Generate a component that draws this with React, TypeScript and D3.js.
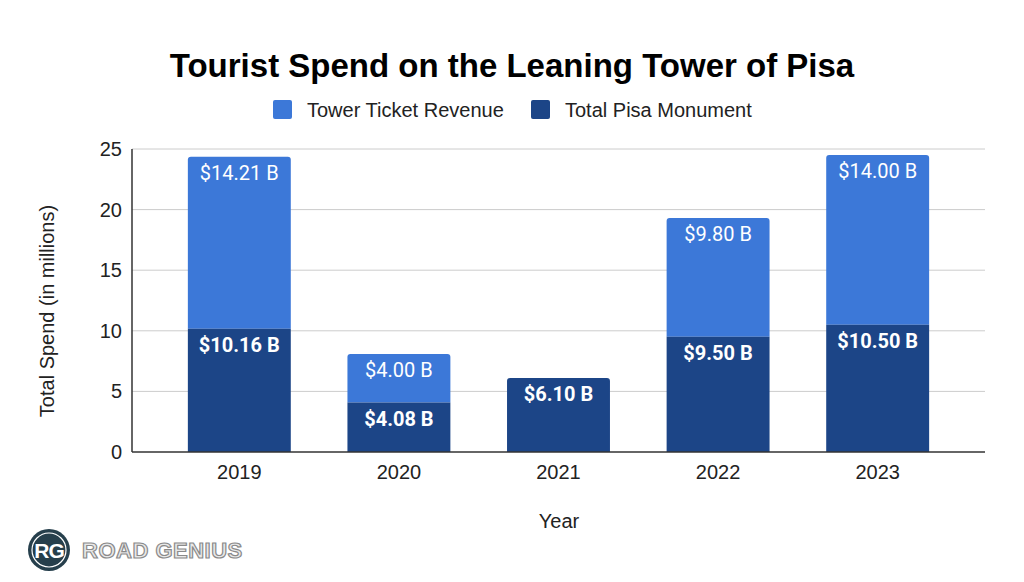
import React from "react";
import * as d3 from "d3";

const years = ["2019", "2020", "2021", "2022", "2023"];
const monumentValues = [10.16, 4.08, 6.1, 9.5, 10.5];
const ticketValues = [14.21, 4.0, 0, 9.8, 14.0];
const monumentLabels = ["$10.16 B", "$4.08 B", "$6.10 B", "$9.50 B", "$10.50 B"];
const ticketLabels = ["$14.21 B", "$4.00 B", "", "$9.80 B", "$14.00 B"];
const yTicks = [0, 5, 10, 15, 20, 25];
const seriesNames = ["Tower Ticket Revenue", "Total Pisa Monument"];

const LIGHT = "#3c78d8";
const DARK = "#1c4587";
const FONT = "Arial, 'Liberation Sans', sans-serif";
const LABEL_FONT = "Roboto, Arial, sans-serif";

export default function App() {
  const W = 1024, H = 582;
  const left = 132, right = 985, top = 149, bottom = 452;
  const x = d3.scaleBand<string>().domain(years).range([left, right]).paddingInner(0.355).paddingOuter(0.35);
  const y = d3.scaleLinear().domain([0, 25]).range([bottom, top]);
  const bw = x.bandwidth();

  const roundTopRect = (x0: number, y0: number, w: number, h: number, r: number) => {
    const p = d3.path();
    p.moveTo(x0, y0 + h);
    p.lineTo(x0, y0 + r);
    p.quadraticCurveTo(x0, y0, x0 + r, y0);
    p.lineTo(x0 + w - r, y0);
    p.quadraticCurveTo(x0 + w, y0, x0 + w, y0 + r);
    p.lineTo(x0 + w, y0 + h);
    p.closePath();
    return p.toString();
  };

  return (
    <svg width={W} height={H} style={{ position: "absolute", left: 0, top: 0, background: "#fff" }} fontFamily={FONT}>
      <rect x={0} y={0} width={W} height={H} fill="#fff" />
      <text x={512} y={77} textAnchor="middle" fontSize={33} fontWeight="bold" fill="#000">
        Tourist Spend on the Leaning Tower of Pisa
      </text>
      {/* legend */}
      <rect x={273} y={100} width={19} height={19} rx={2} fill={LIGHT} />
      <text x={307} y={117} fontSize={20} fill="#222">{seriesNames[0]}</text>
      <rect x={531} y={100} width={19} height={19} rx={2} fill={DARK} />
      <text x={565} y={117} fontSize={20} fill="#222">{seriesNames[1]}</text>

      {/* grid */}
      {yTicks.map((t) => (
        <g key={t}>
          {t > 0 && <line x1={left} x2={right} y1={y(t)} y2={y(t)} stroke="#cccccc" strokeWidth={1} />}
          <text x={122} y={y(t) + 7} textAnchor="end" fontSize={20} fill="#222">{t}</text>
        </g>
      ))}

      {/* bars */}
      {years.map((yr, i) => {
        const x0 = x(yr)!;
        const m = monumentValues[i];
        const t = ticketValues[i];
        const cx = x0 + bw / 2;
        const hasTop = t > 0;
        return (
          <g key={yr}>
            {hasTop && (
              <path d={roundTopRect(x0, y(m + t), bw, y(m) - y(m + t), 3)} fill={LIGHT} />
            )}
            <path d={hasTop ? roundTopRect(x0, y(m), bw, bottom - y(m), 0) : roundTopRect(x0, y(m), bw, bottom - y(m), 3)} fill={DARK} />
            {hasTop && (
              <text x={cx} y={y(m + t) + 23} textAnchor="middle" fontSize={20} fontFamily={LABEL_FONT} fill="#fff">{ticketLabels[i]}</text>
            )}
            <text x={cx} y={y(m) + 23} textAnchor="middle" fontSize={20} fontFamily={LABEL_FONT} fontWeight="bold" fill="#fff">{monumentLabels[i]}</text>
            <text x={cx} y={479} textAnchor="middle" fontSize={20} fill="#222">{yr}</text>
          </g>
        );
      })}

      {/* axes */}
      <line x1={left} x2={left} y1={top} y2={bottom} stroke="#333" strokeWidth={1.5} />
      <line x1={left} x2={right} y1={bottom} y2={bottom} stroke="#333" strokeWidth={1.5} />

      <text x={559} y={528} textAnchor="middle" fontSize={20} fill="#222">Year</text>
      <text transform={`translate(54,311) rotate(-90)`} textAnchor="middle" fontSize={20} fill="#222">Total Spend (in millions)</text>

      {/* logo */}
      <circle cx={49} cy={550} r={21} fill="#263f4c" />
      <circle cx={49} cy={550} r={17} fill="none" stroke="#fff" strokeWidth={1.2} />
      <text x={49} y={558} textAnchor="middle" fontSize={21} fontWeight="bold" fill="#fff" letterSpacing={-1}>RG</text>
      <text x={82} y={558} fontSize={22} fontWeight="bold" fill="#e8e8e8" stroke="#8a8a8a" strokeWidth={1.2} letterSpacing={0.5}>ROAD GENIUS</text>
    </svg>
  );
}
